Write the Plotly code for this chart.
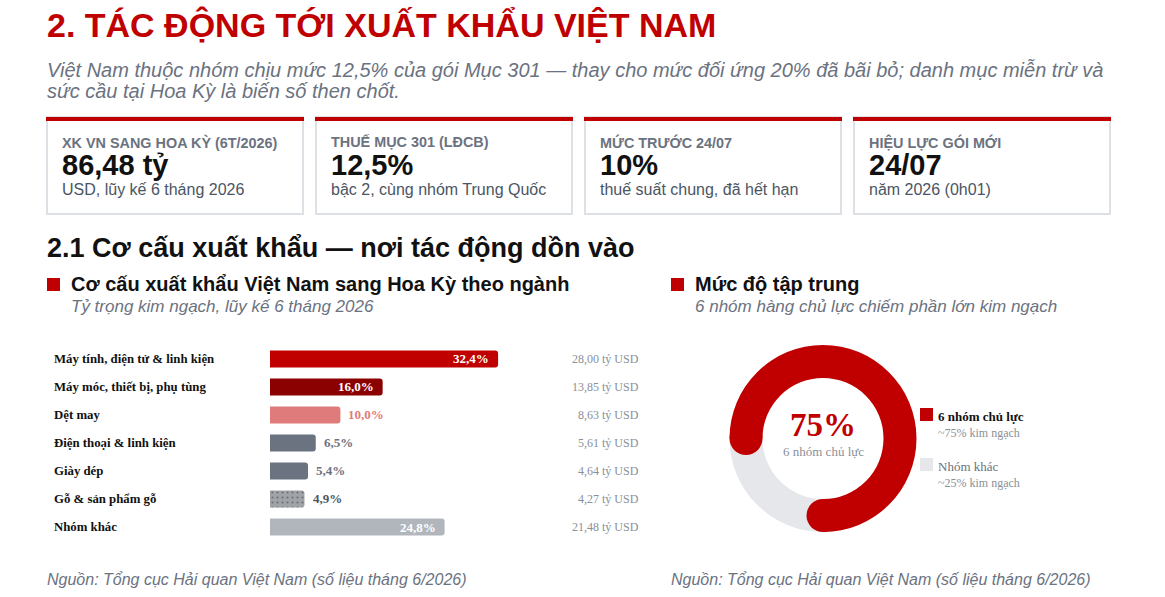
import math
import plotly.graph_objects as go

W, H = 1165, 597

# ---------------- data ----------------
title = "2. TÁC ĐỘNG TỚI XUẤT KHẨU VIỆT NAM"
subtitle_lines = [
    "Việt Nam thuộc nhóm chịu mức 12,5% của gói Mục 301 — thay cho mức đối ứng 20% đã bãi bỏ; danh mục miễn trừ và",
    "sức cầu tại Hoa Kỳ là biến số then chốt.",
]
kpi_labels = ["XK VN SANG HOA KỲ (6T/2026)", "THUẾ MỤC 301 (LĐCB)", "MỨC TRƯỚC 24/07", "HIỆU LỰC GÓI MỚI"]
kpi_values = ["86,48 tỷ", "12,5%", "10%", "24/07"]
kpi_subs = ["USD, lũy kế 6 tháng 2026", "bậc 2, cùng nhóm Trung Quốc", "thuế suất chung, đã hết hạn", "năm 2026 (0h01)"]

section_title = "2.1 Cơ cấu xuất khẩu — nơi tác động dồn vào"
left_title = "Cơ cấu xuất khẩu Việt Nam sang Hoa Kỳ theo ngành"
left_sub = "Tỷ trọng kim ngạch, lũy kế 6 tháng 2026"
right_title = "Mức độ tập trung"
right_sub = "6 nhóm hàng chủ lực chiếm phần lớn kim ngạch"
source_text = "Nguồn: Tổng cục Hải quan Việt Nam (số liệu tháng 6/2026)"

categories = ["Máy tính, điện tử & linh kiện", "Máy móc, thiết bị, phụ tùng", "Dệt may",
              "Điện thoại & linh kiện", "Giày dép", "Gỗ & sản phẩm gỗ", "Nhóm khác"]
shares = [32.4, 16.0, 10.0, 6.5, 5.4, 4.9, 24.8]
values_usd = [28.00, 13.85, 8.63, 5.61, 4.64, 4.27, 21.48]

donut_names = ["6 nhóm chủ lực", "Nhóm khác"]
donut_values = [75, 25]
donut_notes = ["~75% kim ngạch", "~25% kim ngạch"]

# ---------------- styles ----------------
RED = "#c00000"
bar_colors = ["#c00000", "#8b0000", "#e07b7b", "#6b7280", "#6b7280", "#a0a4a9", "#b1b6bd"]
label_inside = [True, True, False, False, False, False, True]
label_colors = ["#ffffff", "#ffffff", "#e07b7b", "#6b7280", "#6b7280", "#4b5563", "#ffffff"]
pattern_shapes = ["", "", "", "", "", ".", ""]
SANS = "Liberation Sans, Arial, sans-serif"
SERIF = "Liberation Serif, Times New Roman, serif"
GRAY = "#6b7280"


def px(x):
    return x / W


def py(y):
    return 1 - y / H


def vn(v, d):
    return f"{v:.{d}f}".replace(".", ",")


fig = go.Figure()

# ---------------- bar chart ----------------
fig.add_trace(go.Bar(
    x=shares, y=categories, orientation="h",
    marker=dict(color=bar_colors, line=dict(width=0),
                pattern=dict(shape=pattern_shapes, fillmode="overlay",
                             fgcolor="#c3c6ca", fgopacity=0.55, size=5, solidity=0.15)),
    hoverinfo="skip", showlegend=False, xaxis="x", yaxis="y",
))

# ---------------- donut ----------------
cx, cy, r_out, r_in = 823, 438.5, 93.5, 60.5
rotation = 270
fig.add_trace(go.Pie(
    values=donut_values, labels=donut_names, sort=False, direction="clockwise",
    rotation=rotation, hole=r_in / r_out, textinfo="none", hoverinfo="skip",
    marker=dict(colors=[RED, "#e5e7eb"], line=dict(width=0)),
    domain=dict(x=[px(cx - r_out), px(cx + r_out)], y=[py(cy + r_out), py(cy - r_out)]),
    showlegend=False,
))

shapes = []
annotations = []

# round caps of the red arc, computed from the donut value
r_mid = (r_out + r_in) / 2
r_cap = (r_out - r_in) / 2
share0 = donut_values[0] / sum(donut_values)
for ang in [rotation, rotation + 360 * share0]:
    a = math.radians(ang)
    ex, ey = cx + r_mid * math.sin(a), cy - r_mid * math.cos(a)
    shapes.append(dict(type="circle", xref="paper", yref="paper",
                       x0=px(ex - r_cap), x1=px(ex + r_cap), y0=py(ey + r_cap), y1=py(ey - r_cap),
                       fillcolor=RED, line=dict(width=0), layer="above"))

# ---------------- header ----------------
annotations.append(dict(text=f"<b>{title}</b>", x=px(45), y=py(25), xref="paper", yref="paper",
                        xanchor="left", yanchor="middle", showarrow=False,
                        font=dict(family=SANS, size=34, color=RED)))
for i, line in enumerate(subtitle_lines):
    annotations.append(dict(text=f"<i>{line}</i>", x=px(45), y=py(70 + 21 * i), xref="paper", yref="paper",
                            xanchor="left", yanchor="middle", showarrow=False,
                            font=dict(family=SANS, size=20, color=GRAY)))

# ---------------- KPI cards ----------------
for i in range(4):
    x0 = 47 + i * 269
    x1 = x0 + 256
    shapes.append(dict(type="rect", xref="paper", yref="paper", x0=px(x0), x1=px(x1), y0=py(214), y1=py(117),
                       fillcolor="#ffffff", line=dict(color="#dde1e6", width=2), layer="below"))
    shapes.append(dict(type="rect", xref="paper", yref="paper", x0=px(x0 - 1), x1=px(x1 + 1), y0=py(121), y1=py(117),
                       fillcolor=RED, line=dict(width=0), layer="above"))
    annotations.append(dict(text=f"<b>{kpi_labels[i]}</b>", x=px(x0 + 13), y=py(142), xref="paper", yref="paper",
                            xanchor="left", yanchor="middle", showarrow=False,
                            font=dict(family=SANS, size=14.4, color=GRAY)))
    annotations.append(dict(text=f"<b>{kpi_values[i]}</b>", x=px(x0 + 13), y=py(165), xref="paper", yref="paper",
                            xanchor="left", yanchor="middle", showarrow=False,
                            font=dict(family=SANS, size=29, color="#111111")))
    annotations.append(dict(text=kpi_subs[i], x=px(x0 + 13), y=py(190), xref="paper", yref="paper",
                            xanchor="left", yanchor="middle", showarrow=False,
                            font=dict(family=SANS, size=16, color="#4b5563")))

# ---------------- section titles ----------------
annotations.append(dict(text=f"<b>{section_title}</b>", x=px(45), y=py(248), xref="paper", yref="paper",
                        xanchor="left", yanchor="middle", showarrow=False,
                        font=dict(family=SANS, size=27, color="#111111")))
for (sx, t, s) in [(47, left_title, left_sub), (671, right_title, right_sub)]:
    shapes.append(dict(type="rect", xref="paper", yref="paper", x0=px(sx), x1=px(sx + 13), y0=py(291), y1=py(278),
                       fillcolor=RED, line=dict(width=0)))
    annotations.append(dict(text=f"<b>{t}</b>", x=px(sx + 22), y=py(284), xref="paper", yref="paper",
                            xanchor="left", yanchor="middle", showarrow=False,
                            font=dict(family=SANS, size=20, color="#111111")))
    annotations.append(dict(text=f"<i>{s}</i>", x=px(sx + 22), y=py(306), xref="paper", yref="paper",
                            xanchor="left", yanchor="middle", showarrow=False,
                            font=dict(family=SANS, size=17, color=GRAY)))

# ---------------- bar labels ----------------
for i, cat in enumerate(categories):
    annotations.append(dict(text=f"<b>{cat}</b>", x=px(52), y=cat, xref="paper", yref="y",
                            xanchor="left", yanchor="middle", showarrow=False,
                            font=dict(family=SERIF, size=12.8, color="#111111")))
    inside = label_inside[i]
    annotations.append(dict(text=f"<b>{vn(shares[i], 1)}%</b>", x=shares[i], y=cat, xref="x", yref="y",
                            xanchor="right" if inside else "left", xshift=-7 if inside else 6,
                            yanchor="middle", showarrow=False,
                            font=dict(family=SERIF, size=13, color=label_colors[i])))
    annotations.append(dict(text=f"{vn(values_usd[i], 2)} tỷ USD", x=px(641), y=cat, xref="paper", yref="y",
                            xanchor="right", yanchor="middle", showarrow=False,
                            font=dict(family=SERIF, size=12, color="#8a8f98")))

# ---------------- donut texts & legend ----------------
annotations.append(dict(text=f"<b>{donut_values[0]}%</b>", x=px(cx), y=py(425), xref="paper", yref="paper",
                        xanchor="center", yanchor="middle", showarrow=False,
                        font=dict(family=SERIF, size=33, color=RED)))
annotations.append(dict(text=donut_names[0], x=px(cx), y=py(451), xref="paper", yref="paper",
                        xanchor="center", yanchor="middle", showarrow=False,
                        font=dict(family=SERIF, size=13, color="#8a8f98")))
leg_colors = [RED, "#e5e7eb"]
for i in range(2):
    y0 = 408 + i * 50
    shapes.append(dict(type="rect", xref="paper", yref="paper", x0=px(920), x1=px(933), y0=py(y0 + 13), y1=py(y0),
                       fillcolor=leg_colors[i], line=dict(width=0)))
    name = f"<b>{donut_names[i]}</b>" if i == 0 else donut_names[i]
    annotations.append(dict(text=name, x=px(936), y=py(y0 + 8), xref="paper", yref="paper",
                            xanchor="left", yanchor="middle", showarrow=False,
                            font=dict(family=SERIF, size=13, color="#111111" if i == 0 else "#6b7280")))
    annotations.append(dict(text=donut_notes[i], x=px(936), y=py(y0 + 25), xref="paper", yref="paper",
                            xanchor="left", yanchor="middle", showarrow=False,
                            font=dict(family=SERIF, size=12, color="#8a8f98")))

# ---------------- sources ----------------
for sx in [45, 669]:
    annotations.append(dict(text=f"<i>{source_text}</i>", x=px(sx), y=py(579), xref="paper", yref="paper",
                            xanchor="left", yanchor="middle", showarrow=False,
                            font=dict(family=SANS, size=16, color=GRAY)))

fig.update_layout(
    width=W, height=H, autosize=False,
    margin=dict(l=0, r=0, t=0, b=0),
    paper_bgcolor="#ffffff", plot_bgcolor="rgba(0,0,0,0)",
    xaxis=dict(domain=[px(270), px(270 + 35 * 7.04)], range=[0, 35], visible=False, fixedrange=True),
    yaxis=dict(domain=[py(541), py(345)], type="category", autorange="reversed", visible=False, fixedrange=True),
    bargap=0.39, barcornerradius=3,
    shapes=shapes, annotations=annotations,
)

fig.write_html("out.html", config={"displayModeBar": False})
